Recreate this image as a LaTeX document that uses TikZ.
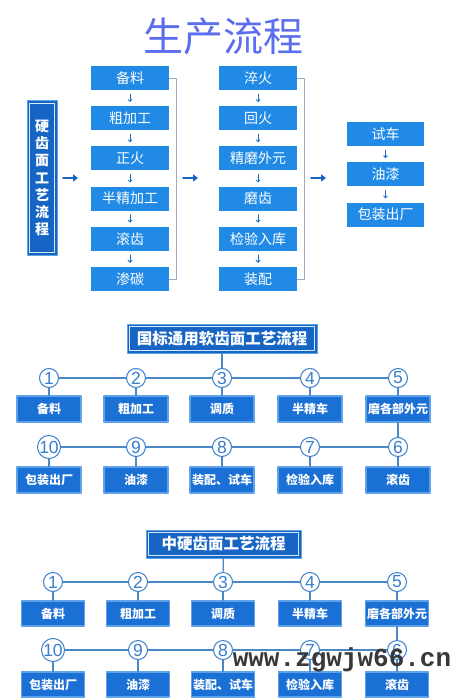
\documentclass[tikz,border=0pt]{standalone}
\usepackage{fontspec}
\setmainfont{Noto Sans CJK SC}
\newfontfamily\digitfont{Liberation Sans}
\newfontfamily\markfont{Liberation Mono}
\usetikzlibrary{arrows.meta}
\definecolor{titleblue}{RGB}{92,110,240}
\definecolor{stepblue}{RGB}{32,138,230}
\definecolor{deepblue}{RGB}{22,100,196}
\definecolor{cardblue}{RGB}{26,112,212}
\definecolor{rimblue}{RGB}{96,162,232}
\definecolor{linkblue}{RGB}{74,136,200}
\definecolor{ringblue}{RGB}{56,126,206}
\definecolor{bracegray}{RGB}{150,172,198}

\begin{document}
\begin{tikzpicture}[x=1pt,y=-1pt,line cap=round,line join=round,
  stepbox/.style={fill=stepblue,text=white,minimum width=78pt,minimum height=24pt,inner sep=0pt,font=\fontsize{14}{16}\selectfont},
  cardbox/.style={fill=cardblue,draw=rimblue,line width=1.1pt,text=white,minimum width=64pt,minimum height=26pt,inner sep=0pt,font=\fontsize{12}{14}\selectfont\bfseries},
  headbox/.style={fill=deepblue,draw=rimblue,line width=1pt,text=white,inner sep=0pt,font=\fontsize{15.5}{18}\selectfont\bfseries,
    path picture={\draw[white!75!rimblue,line width=0.7pt] ([shift={(2.8pt,-2.8pt)}]path picture bounding box.north west) rectangle ([shift={(-2.8pt,2.8pt)}]path picture bounding box.south east);}},
  ring/.style={circle,draw=ringblue,fill=white,line width=1pt,minimum size=19pt,inner sep=0pt,text=ringblue,font=\digitfont\fontsize{17.5}{17.5}\selectfont},
  link/.style={linkblue,line width=1.2pt},
  brace/.style={bracegray,line width=0.7pt},
  stepflow/.style={deepblue,line width=0.8pt,-{Straight Barb[length=2pt,width=4pt]}},
  bigflow/.style={deepblue,line width=1.8pt,-{Triangle[length=5pt,width=7pt]}}]
\useasboundingbox (0,0) rectangle (472,700);
\fill[white] (0,0) rectangle (472,700);

% top: production flow
\node[font=\fontsize{40}{44}\selectfont,text=titleblue] (title) at (223,36) {生产流程};
\node[headbox,minimum width=30pt,minimum height=154pt,align=center,font=\fontsize{14}{17.3}\selectfont\bfseries] (lead) at (42,178) {硬\\齿\\面\\工\\艺\\流\\程};

\node[stepbox] (a1) at (130,78) {备料};
\node[stepbox] (a2) at (130,118.2) {粗加工};
\node[stepbox] (a3) at (130,158.4) {正火};
\node[stepbox] (a4) at (130,198.6) {半精加工};
\node[stepbox] (a5) at (130,238.8) {滚齿};
\node[stepbox] (a6) at (130,279) {渗碳};

\node[stepbox] (b1) at (258,78) {淬火};
\node[stepbox] (b2) at (258,118.2) {回火};
\node[stepbox] (b3) at (258,158.4) {精磨外元};
\node[stepbox] (b4) at (258,198.6) {磨齿};
\node[stepbox] (b5) at (258,238.8) {检验入库};
\node[stepbox] (b6) at (258,279) {装配};

\node[stepbox,minimum width=77pt] (c1) at (385.5,134) {试车};
\node[stepbox,minimum width=77pt] (c2) at (385.5,174.3) {油漆};
\node[stepbox,minimum width=77pt] (c3) at (385.5,214.6) {包装出厂};

\draw[stepflow] ([yshift=-4pt]a1.south) -- ([yshift=4pt]a2.north);
\draw[stepflow] ([yshift=-4pt]a2.south) -- ([yshift=4pt]a3.north);
\draw[stepflow] ([yshift=-4pt]a3.south) -- ([yshift=4pt]a4.north);
\draw[stepflow] ([yshift=-4pt]a4.south) -- ([yshift=4pt]a5.north);
\draw[stepflow] ([yshift=-4pt]a5.south) -- ([yshift=4pt]a6.north);
\draw[stepflow] ([yshift=-4pt]b1.south) -- ([yshift=4pt]b2.north);
\draw[stepflow] ([yshift=-4pt]b2.south) -- ([yshift=4pt]b3.north);
\draw[stepflow] ([yshift=-4pt]b3.south) -- ([yshift=4pt]b4.north);
\draw[stepflow] ([yshift=-4pt]b4.south) -- ([yshift=4pt]b5.north);
\draw[stepflow] ([yshift=-4pt]b5.south) -- ([yshift=4pt]b6.north);
\draw[stepflow] ([yshift=-4pt]c1.south) -- ([yshift=4pt]c2.north);
\draw[stepflow] ([yshift=-4pt]c2.south) -- ([yshift=4pt]c3.north);

\draw[brace] (a1.east) -- ++(7,0) |- (a6.east);
\draw[brace] (b1.east) -- ++(7,0) |- (b6.east);

\coordinate (g1a) at (63,178);
\coordinate (g1b) at (78,178);
\coordinate (g2a) at (183,178);
\coordinate (g2b) at (198,178);
\coordinate (g3a) at (311,178);
\coordinate (g3b) at (326,178);
\draw[bigflow] (g1a) -- (g1b);
\draw[bigflow] (g2a) -- (g2b);
\draw[bigflow] (g3a) -- (g3b);

% middle: soft tooth surface
\node[headbox,minimum width=190pt,minimum height=29pt] (ha) at (222,338.5) {国标通用软齿面工艺流程};
\node[ring] (ca1) at (49,378) {1};
\node[ring] (ca2) at (136,378) {2};
\node[ring] (ca3) at (222,378) {3};
\node[ring] (ca4) at (310,378) {4};
\node[ring] (ca5) at (398,378) {5};
\node[ring] (ca6) at (398,447) {6};
\node[ring] (ca7) at (310,447) {7};
\node[ring] (ca8) at (222,447) {8};
\node[ring] (ca9) at (136,447) {9};
\node[ring] (ca10) at (49,447) {10};
\node[cardbox] (ba1) at (49,409) {备料};
\node[cardbox] (ba2) at (136,409) {粗加工};
\node[cardbox] (ba3) at (222,409) {调质};
\node[cardbox] (ba4) at (310,409) {半精车};
\node[cardbox] (ba5) at (398,409) {磨各部外元};
\node[cardbox] (ba6) at (398,480) {滚齿};
\node[cardbox] (ba7) at (310,480) {检验入库};
\node[cardbox] (ba8) at (222,480) {装配、试车};
\node[cardbox] (ba9) at (136,480) {油漆};
\node[cardbox] (ba10) at (49,480) {包装出厂};
\draw[link] (ha) -- (ca3);
\draw[link] (ca1) -- (ca2) -- (ca3) -- (ca4) -- (ca5);
\draw[link] (ca10) -- (ca9) -- (ca8) -- (ca7) -- (ca6);
\draw[link] (ca1) -- (ba1);
\draw[link] (ca2) -- (ba2);
\draw[link] (ca3) -- (ba3);
\draw[link] (ca4) -- (ba4);
\draw[link] (ca5) -- (ba5);
\draw[link] (ba5) -- (ca6);
\draw[link] (ca6) -- (ba6);
\draw[link] (ca7) -- (ba7);
\draw[link] (ca8) -- (ba8);
\draw[link] (ca9) -- (ba9);
\draw[link] (ca10) -- (ba10);

% bottom: medium hard tooth surface
\node[headbox,minimum width=155pt,minimum height=28pt] (hb) at (223.5,544) {中硬齿面工艺流程};
\node[ring] (cb1) at (53,582) {1};
\node[ring] (cb2) at (138,582) {2};
\node[ring] (cb3) at (223,582) {3};
\node[ring] (cb4) at (310,582) {4};
\node[ring] (cb5) at (397,582) {5};
\node[ring] (cb6) at (397,650) {6};
\node[ring] (cb7) at (310,650) {7};
\node[ring] (cb8) at (223,650) {8};
\node[ring] (cb9) at (138,650) {9};
\node[ring] (cb10) at (53,650) {10};
\node[cardbox,minimum width=63pt,minimum height=25pt] (bb1) at (53,613.5) {备料};
\node[cardbox,minimum width=63pt,minimum height=25pt] (bb2) at (138,613.5) {粗加工};
\node[cardbox,minimum width=63pt,minimum height=25pt] (bb3) at (223,613.5) {调质};
\node[cardbox,minimum width=63pt,minimum height=25pt] (bb4) at (310,613.5) {半精车};
\node[cardbox,minimum width=63pt,minimum height=25pt] (bb5) at (397,613.5) {磨各部外元};
\node[cardbox,minimum width=63pt,minimum height=25pt] (bb6) at (397,684.5) {滚齿};
\node[cardbox,minimum width=63pt,minimum height=25pt] (bb7) at (310,684.5) {检验入库};
\node[cardbox,minimum width=63pt,minimum height=25pt] (bb8) at (223,684.5) {装配、试车};
\node[cardbox,minimum width=63pt,minimum height=25pt] (bb9) at (138,684.5) {油漆};
\node[cardbox,minimum width=63pt,minimum height=25pt] (bb10) at (53,684.5) {包装出厂};
\draw[link] (hb) -- (cb3);
\draw[link] (cb1) -- (cb2) -- (cb3) -- (cb4) -- (cb5);
\draw[link] (cb10) -- (cb9) -- (cb8) -- (cb7) -- (cb6);
\draw[link] (cb1) -- (bb1);
\draw[link] (cb2) -- (bb2);
\draw[link] (cb3) -- (bb3);
\draw[link] (cb4) -- (bb4);
\draw[link] (cb5) -- (bb5);
\draw[link] (bb5) -- (cb6);
\draw[link] (cb6) -- (bb6);
\draw[link] (cb7) -- (bb7);
\draw[link] (cb8) -- (bb8);
\draw[link] (cb9) -- (bb9);
\draw[link] (cb10) -- (bb10);

\node[font=\markfont\fontsize{26}{26}\selectfont\bfseries,text=black!78] (mark) at (342,660) {www.zgwjw66.cn};
\end{tikzpicture}
\end{document}
